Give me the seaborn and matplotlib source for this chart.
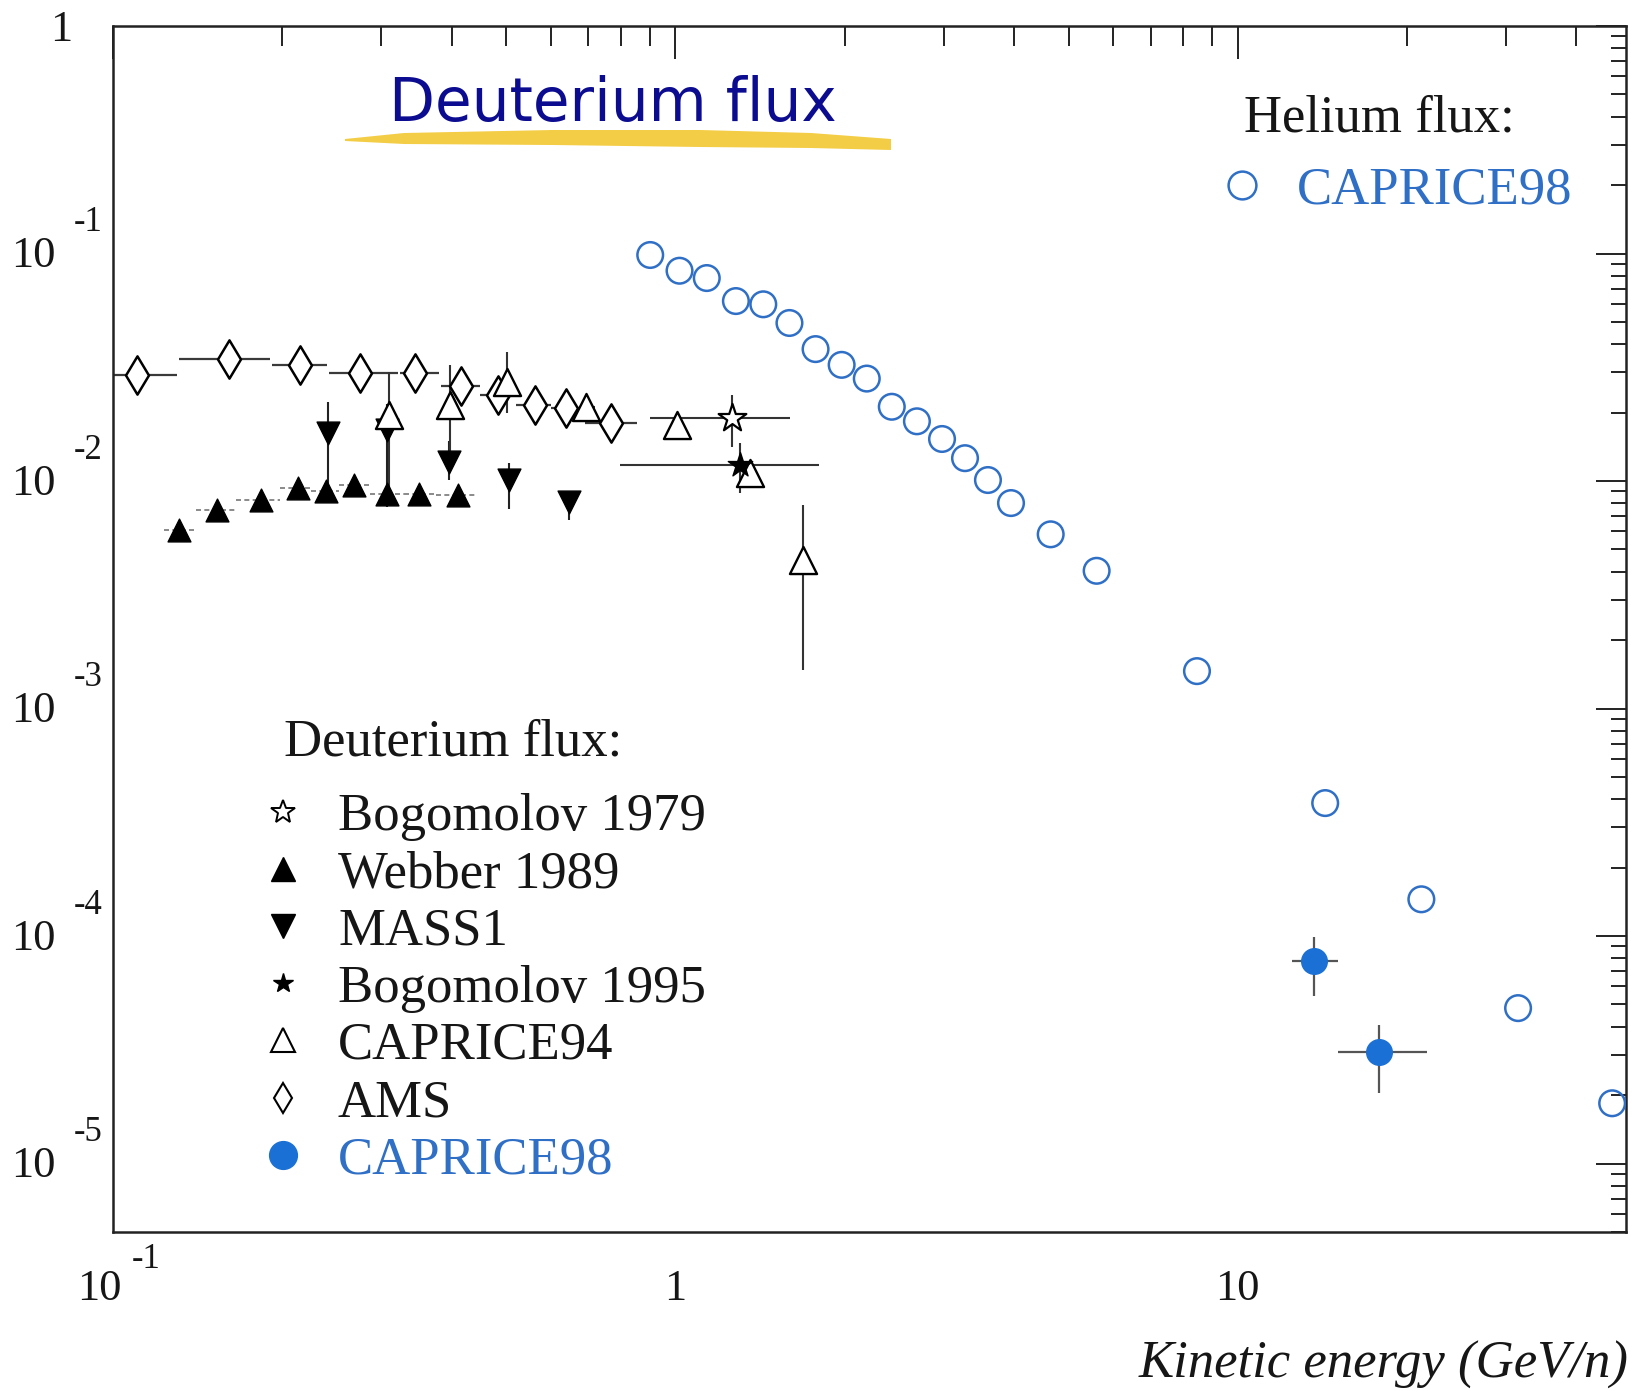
import numpy as np
import matplotlib
matplotlib.use("Agg")
import matplotlib.pyplot as plt
import seaborn as sns
from matplotlib.lines import Line2D
from matplotlib.patches import Polygon
from matplotlib.transforms import blended_transform_factory, ScaledTranslation
from matplotlib.ticker import LogLocator, NullFormatter, FixedLocator

# ---------------- data ----------------
# Helium flux, CAPRICE98 (open blue circles)
he_x = [0.902, 1.017, 1.137, 1.281, 1.433, 1.595, 1.775, 1.975, 2.189, 2.425, 2.688,
        2.979, 3.273, 3.595, 3.951, 4.648, 5.61, 8.46, 14.3, 21.2, 31.5, 46.3]
he_y = [0.0985, 0.0840, 0.0780, 0.0618, 0.0598, 0.0495, 0.0380, 0.0324, 0.0282, 0.0212,
        0.0183, 0.0153, 0.0126, 0.0101, 0.0080, 0.00583, 0.00403, 0.00146, 3.84e-4,
        1.45e-4, 4.82e-5, 1.84e-5]

# Deuterium: AMS (open diamonds) with energy bins
ams_x = [0.1103, 0.1606, 0.2151, 0.2747, 0.3450, 0.4153, 0.4843, 0.5629, 0.6397, 0.7675]
ams_y = [0.02919, 0.03422, 0.03232, 0.02991, 0.02972, 0.02612, 0.02385, 0.02158, 0.02085, 0.01801]
ams_lo = [0.1000, 0.1311, 0.1915, 0.2417, 0.3239, 0.3835, 0.4500, 0.5200, 0.6000, 0.6900]
ams_hi = [0.1299, 0.1900, 0.2399, 0.3214, 0.3805, 0.4500, 0.5200, 0.6000, 0.6900, 0.8530]

# Webber 1989 (filled up triangles)
web_x = [0.1312, 0.1532, 0.1832, 0.2130, 0.2389, 0.2687, 0.3069, 0.3499, 0.4111]
web_y = [0.00608, 0.00749, 0.00824, 0.00927, 0.00905, 0.00959, 0.00875, 0.00875, 0.00867]
web_lo = [0.1231, 0.1404, 0.1658, 0.1985, 0.2247, 0.2527, 0.2861, 0.3287, 0.3750]
web_hi = [0.1404, 0.1658, 0.1985, 0.2247, 0.2527, 0.2861, 0.3287, 0.3750, 0.4404]

# MASS1 (filled down triangles)
mass_x = [0.2408, 0.3069, 0.3963, 0.5061, 0.6471]
mass_y = [0.01619, 0.01673, 0.01214, 0.01009, 0.00809]
mass_ylo = [0.00824, 0.00770, 0.01009, 0.00757, 0.00673]
mass_yhi = [0.02229, 0.02180, 0.01500, 0.01194, 0.00867]

# CAPRICE94 (open up triangles)
c94_x = [0.3100, 0.3974, 0.5025, 0.6930, 1.0056, 1.358, 1.689]
c94_y = [0.01949, 0.02158, 0.02731, 0.02118, 0.01760, 0.01079, 0.00449]
c94_ylo = [0.00824, 0.01236, 0.01982, 0.02118, 0.01760, 0.01079, 0.001472]
c94_yhi = [0.03020, 0.03230, 0.03700, 0.02118, 0.01760, 0.01079, 0.00783]
c94_xlo = [0.3100, 0.3974, 0.5025, 0.6750, 1.0056, 1.358, 1.689]
c94_xhi = [0.3100, 0.3974, 0.5025, 0.7200, 1.0056, 1.358, 1.689]

# Bogomolov 1979 (open star) and 1995 (filled star)
b79_x = [1.2603]
b79_y = [0.01884]
b79_xlo, b79_xhi = [0.9016], [1.600]
b79_ylo, b79_yhi = [0.01414], [0.02385]

b95_x = [1.3034]
b95_y = [0.01173]
b95_xlo, b95_xhi = [0.7975], [1.797]
b95_ylo, b95_yhi = [0.00882], [0.01462]

# CAPRICE98 deuterium (filled blue circles)
c98_x = [13.67, 17.86]
c98_y = [7.76e-5, 3.08e-5]
c98_xlo = [12.48, 15.10]
c98_xhi = [15.10, 21.68]
c98_ylo = [5.47e-5, 2.04e-5]
c98_yhi = [9.88e-5, 4.08e-5]

legend_labels = ["Bogomolov 1979", "Webber 1989", "MASS1", "Bogomolov 1995",
                 "CAPRICE94", "AMS", "CAPRICE98"]
y_exponents = [-5, -4, -3, -2, -1]

BLUE = "#2f6fc6"
BLUE_FILL = "#1a70d4"
INK = "#161616"

# ---------------- style ----------------
sns.set_theme(style="white")
plt.rcParams['font.family'] = ['Liberation Serif', 'DejaVu Serif']
plt.rcParams['axes.linewidth'] = 1.8
plt.rcParams['axes.edgecolor'] = "#222222"

W, H = 1639, 1391
fig = plt.figure(figsize=(W / 100, H / 100), dpi=100)
fig.patch.set_facecolor("white")
ax = fig.add_axes([113 / W, 1 - 1232 / H, (1626 - 113) / W, (1232 - 26) / H])
ax.set_facecolor("white")
ax.set_xscale("log")
ax.set_yscale("log")
ax.set_xlim(0.1, 49)
ax.set_ylim(5e-6, 1)

# ticks
ax.xaxis.set_major_locator(FixedLocator([0.1, 1, 10]))
ax.xaxis.set_minor_locator(LogLocator(base=10, subs=np.arange(2, 10), numticks=20))
ax.yaxis.set_major_locator(FixedLocator([1e-5, 1e-4, 1e-3, 1e-2, 1e-1, 1]))
ax.yaxis.set_minor_locator(LogLocator(base=10, subs=np.arange(2, 10), numticks=20))
ax.xaxis.set_minor_formatter(NullFormatter())
ax.yaxis.set_minor_formatter(NullFormatter())
ax.tick_params(which="both", direction="in", top=True, right=True,
               labelbottom=False, labelleft=False, color="#222222", width=1.4)
ax.tick_params(axis="x", which="major", length=23.5)
ax.tick_params(axis="x", which="minor", length=14.5)
ax.tick_params(axis="y", which="major", length=21.5)
ax.tick_params(axis="y", which="minor", length=11)

# ---------------- error bars ----------------
def ebar(x, y, xlo=None, xhi=None, ylo=None, yhi=None, color="#333333", lw=1.5, ls="-"):
    x = np.asarray(x); y = np.asarray(y)
    xerr = None if xlo is None else [x - np.asarray(xlo), np.asarray(xhi) - x]
    yerr = None if ylo is None else [y - np.asarray(ylo), np.asarray(yhi) - y]
    eb = ax.errorbar(x, y, xerr=xerr, yerr=yerr, fmt="none", ecolor=color,
                     elinewidth=lw, capsize=0, zorder=2)
    if ls != "-":
        for c in eb[2]:
            c.set_linestyle(ls)

ebar(ams_x, ams_y, ams_lo, ams_hi, color="#3a3a3a", lw=1.6)
ebar(web_x, web_y, web_lo, web_hi, color="#777777", lw=1.2, ls=(0, (3, 2)))
ebar(mass_x, mass_y, ylo=mass_ylo, yhi=mass_yhi, color="#222222", lw=1.5)
ebar(c94_x, c94_y, c94_xlo, c94_xhi, c94_ylo, c94_yhi, color="#333333", lw=1.5)
ebar(b79_x, b79_y, b79_xlo, b79_xhi, b79_ylo, b79_yhi, color="#333333", lw=1.5)
ebar(b95_x, b95_y, b95_xlo, b95_xhi, b95_ylo, b95_yhi, color="#333333", lw=1.5)
ebar(c98_x, c98_y, c98_xlo, c98_xhi, c98_ylo, c98_yhi, color="#555555", lw=1.6)

# ---------------- markers (seaborn) ----------------
sns.scatterplot(x=he_x, y=he_y, ax=ax, marker="o", s=340, facecolor="none",
                edgecolor=BLUE, linewidth=1.8, zorder=3, legend=False)
sns.scatterplot(x=ams_x, y=ams_y, ax=ax, marker="d", s=380, color="white",
                edgecolor="black", linewidth=1.8, zorder=3, legend=False)
sns.scatterplot(x=web_x, y=web_y, ax=ax, marker="^", s=270, color="black",
                edgecolor="black", linewidth=1.0, zorder=3, legend=False)
sns.scatterplot(x=mass_x, y=mass_y, ax=ax, marker="v", s=270, color="black",
                edgecolor="black", linewidth=1.0, zorder=3, legend=False)
sns.scatterplot(x=c94_x, y=c94_y, ax=ax, marker="^", s=380, color="white",
                edgecolor="black", linewidth=1.7, zorder=3, legend=False)
sns.scatterplot(x=b79_x, y=b79_y, ax=ax, marker="*", s=440, color="white",
                edgecolor="black", linewidth=1.6, zorder=3, legend=False)
sns.scatterplot(x=b95_x, y=b95_y, ax=ax, marker="*", s=340, color="black",
                edgecolor="black", linewidth=1.0, zorder=4, legend=False)
sns.scatterplot(x=c98_x, y=c98_y, ax=ax, marker="o", s=340, color=BLUE_FILL,
                edgecolor=BLUE_FILL, linewidth=1.0, zorder=3, legend=False)

# ---------------- tick labels (ROOT style) ----------------
def off(dx_pt, dy_pt):
    return ScaledTranslation(dx_pt / 72, dy_pt / 72, fig.dpi_scale_trans)

ytr = blended_transform_factory(ax.transAxes, ax.transData)
for e in y_exponents:
    ax.text(0, 10.0 ** e, "10", transform=ytr + off(-41.5, -2), ha="right",
            va="center", fontsize=32, color=INK)
    ax.text(0, 10.0 ** e, "-%d" % (-e), transform=ytr + off(-7.5, 22), ha="right",
            va="center", fontsize=25, color=INK)
ax.text(0, 1.0, "1", transform=ytr + off(-29, -3), ha="right", va="center",
        fontsize=32, color=INK)

xtr = blended_transform_factory(ax.transData, ax.transAxes)
ax.text(0.1, 0, "10", transform=xtr + off(-9.5, -41), ha="center", va="center",
        fontsize=32, color=INK)
ax.text(0.1, 0, "-1", transform=xtr + off(24, -20), ha="center", va="center",
        fontsize=25, color=INK)
ax.text(1, 0, "1", transform=xtr + off(0, -41), ha="center", va="center",
        fontsize=32, color=INK)
ax.text(10, 0, "10", transform=xtr + off(0, -41), ha="center", va="center",
        fontsize=32, color=INK)

# axis title (ROOT style, right aligned under the axis)
fig.text(1629 / W, 1 - 1378 / H, "Kinetic energy (GeV/n)", fontsize=38,
         fontstyle="italic", ha="right", va="baseline", color=INK)

# ---------------- legends ----------------
handles = [
    Line2D([], [], ls="none", marker="*", ms=18, mfc="white", mec="black", mew=1.4),
    Line2D([], [], ls="none", marker="^", ms=17, mfc="black", mec="black"),
    Line2D([], [], ls="none", marker="v", ms=17, mfc="black", mec="black"),
    Line2D([], [], ls="none", marker="*", ms=15, mfc="black", mec="black"),
    Line2D([], [], ls="none", marker="^", ms=17, mfc="white", mec="black", mew=1.5),
    Line2D([], [], ls="none", marker="d", ms=15, mfc="white", mec="black", mew=1.5),
    Line2D([], [], ls="none", marker="o", ms=20, mfc=BLUE_FILL, mec=BLUE_FILL),
]
leg = ax.legend(handles, legend_labels, loc="upper left",
                bbox_to_anchor=(262 / W, 1 - 793 / H), bbox_transform=fig.transFigure,
                frameon=False, fontsize=38, handlelength=0.78, handletextpad=0.66,
                labelspacing=0.175, borderpad=0, borderaxespad=0,
                labelcolor=[INK] * 6 + [BLUE])
ax.add_artist(leg)
fig.text(284 / W, 1 - 755 / H, "Deuterium flux:", fontsize=38, ha="left",
         va="baseline", color=INK)

he_handle = [Line2D([], [], ls="none", marker="o", ms=20, mfc="none", mec=BLUE, mew=1.8)]
leg2 = ax.legend(he_handle, ["CAPRICE98"], loc="upper left",
                 bbox_to_anchor=(1221 / W, 1 - 166 / H), bbox_transform=fig.transFigure,
                 frameon=False, fontsize=38, handlelength=0.78, handletextpad=0.66,
                 borderpad=0, borderaxespad=0, labelcolor=[BLUE])
fig.text(1244 / W, 1 - 131 / H, "Helium flux:", fontsize=38, ha="left",
         va="baseline", color=INK)

# ---------------- highlighted slide title ----------------
stroke = [(345, 139), (404, 133), (552, 130), (700, 130), (811, 133), (891, 139),
          (891, 150), (811, 148), (700, 147), (552, 145), (404, 144), (345, 141)]
poly = Polygon([(x / W, 1 - y / H) for x, y in stroke], closed=True,
               transform=fig.transFigure, facecolor="#f3c935", edgecolor="none",
               alpha=0.92, zorder=5)
fig.patches.append(poly)
fig.text(389 / W, 1 - 121 / H, "Deuterium flux", fontsize=43, ha="left",
         va="baseline", color="#0c0c90", family=["DejaVu Sans"], zorder=6)

fig.savefig("out.png", dpi=100, facecolor="white")
